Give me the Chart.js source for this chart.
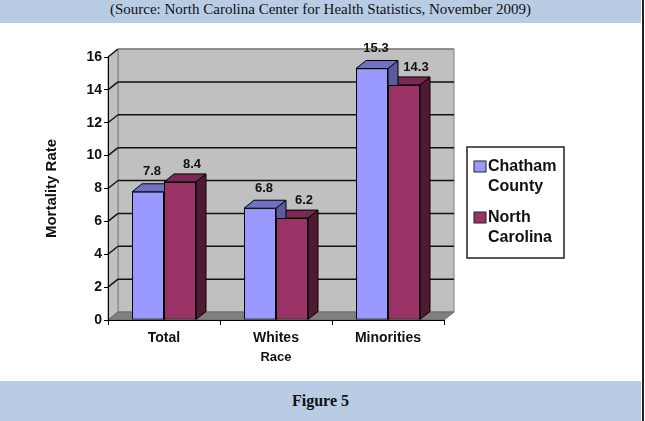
<!DOCTYPE html>
<html><head><meta charset="utf-8">
<script src="https://cdn.jsdelivr.net/npm/chart.js@4.4.0/dist/chart.umd.min.js"></script>
<style>
html,body{margin:0;padding:0;background:#fff;}
#wrap{position:relative;width:645px;height:421px;overflow:hidden;background:#fff;}
#top{position:absolute;left:0;top:0;width:641px;height:23px;background:#b8cce4;font-family:"Liberation Serif",serif;font-size:15px;line-height:18px;text-align:center;color:#111;}
#bot{position:absolute;left:0;top:381px;width:641px;height:40px;background:#b8cce4;font-family:"Liberation Serif",serif;font-weight:bold;font-size:16px;line-height:40px;text-align:center;color:#111;}
#rb{position:absolute;left:642px;top:0;width:2px;height:421px;background:#222;}
canvas{position:absolute;left:0;top:0;}
</style></head>
<body><div id="wrap"><div id="top">(Source: North Carolina Center for Health Statistics, November 2009)</div><div id="bot">Figure 5</div><div id="rb"></div><canvas id="c" width="645" height="421"></canvas></div>
<script>
const categories = ["Total", "Whites", "Minorities"];
const chathamCounty = [7.8, 6.8, 15.3];
const northCarolina = [8.4, 6.2, 14.3];
const seriesNames = [["Chatham", "County"], ["North", "Carolina"]];
const yTickValues = [0, 2, 4, 6, 8, 10, 12, 14, 16];
const axisTitles = { x: "Race", y: "Mortality Rate" };

const DX = 10, DY = 8;
const FONT = '"Liberation Sans", Arial, sans-serif';
const faceColors = [
  { front: '#9999ff', top: '#7070c4', side: '#5b5b9e' },
  { front: '#993366', top: '#7a2952', side: '#4f1a33' }
];

function poly(ctx, pts, fill, stroke, lw) {
  ctx.beginPath();
  ctx.moveTo(pts[0][0], pts[0][1]);
  for (let i = 1; i < pts.length; i++) ctx.lineTo(pts[i][0], pts[i][1]);
  ctx.closePath();
  if (fill) { ctx.fillStyle = fill; ctx.fill(); }
  if (stroke) { ctx.strokeStyle = stroke; ctx.lineWidth = lw || 1; ctx.stroke(); }
}

const threeD = {
  id: 'threeD',
  beforeDraw(chart) {
    const { ctx, chartArea: { left, right, top, bottom }, scales: { y } } = chart;
    ctx.save();
    const yTop = y.getPixelForValue(yTickValues[yTickValues.length - 1]);
    poly(ctx, [[left + DX, yTop - DY], [right + DX, yTop - DY], [right + DX, bottom - DY], [left + DX, bottom - DY]], '#c0c0c0', '#808080', 1);
    poly(ctx, [[left, bottom], [left, yTop], [left + DX, yTop - DY], [left + DX, bottom - DY]], '#c0c0c0', '#808080', 1);
    poly(ctx, [[left, bottom], [right, bottom], [right + DX, bottom - DY], [left + DX, bottom - DY]], '#808080', '#666', 1);
    yTickValues.forEach(v => {
      if (v === 0) return;
      const py = y.getPixelForValue(v);
      ctx.beginPath();
      ctx.moveTo(left, py);
      ctx.lineTo(left + DX, py - DY);
      ctx.strokeStyle = '#111'; ctx.lineWidth = 1.5; ctx.stroke();
      ctx.beginPath();
      ctx.moveTo(left + DX, py - DY);
      ctx.lineTo(right + DX, py - DY);
      ctx.strokeStyle = v === yTickValues[yTickValues.length - 1] ? '#808080' : '#111';
      ctx.stroke();
    });
    ctx.restore();
  },
  beforeDatasetsDraw(chart) {
    const { ctx } = chart;
    ctx.save();
    for (let d = chart.data.datasets.length - 1; d >= 0; d--) {
      const meta = chart.getDatasetMeta(d);
      const c = faceColors[d];
      meta.data.forEach(el => {
        const x0 = el.x - el.width / 2, x1 = el.x + el.width / 2, t = el.y, b = el.base;
        poly(ctx, [[x1, b], [x1, t], [x1 + DX, t - DY], [x1 + DX, b - DY]], c.side, '#000', 1);
        poly(ctx, [[x0, t], [x1, t], [x1 + DX, t - DY], [x0 + DX, t - DY]], c.top, '#000', 1);
      });
    }
    ctx.restore();
  },
  afterDatasetsDraw(chart) {
    const { ctx } = chart;
    ctx.save();
    ctx.font = 'bold 13px ' + FONT;
    ctx.fillStyle = '#111';
    ctx.textAlign = 'center';
    ctx.textBaseline = 'middle';
    const offs = [{ x: 4, y: -12 }, { x: 12, y: -10 }];
    chart.data.datasets.forEach((ds, d) => {
      const meta = chart.getDatasetMeta(d);
      meta.data.forEach((el, i) => {
        ctx.fillText(ds.data[i].toFixed(1), el.x + offs[d].x, el.y - DY + offs[d].y);
      });
    });
    ctx.restore();
  },
  afterDraw(chart) {
    const { ctx } = chart;
    ctx.save();
    const bx = 467, by = 147, bw = 97, bh = 111;
    ctx.fillStyle = '#fff';
    ctx.fillRect(bx, by, bw, bh);
    ctx.strokeStyle = '#222'; ctx.lineWidth = 1.5;
    ctx.strokeRect(bx, by, bw, bh);
    ctx.font = 'bold 16px ' + FONT;
    ctx.textBaseline = 'middle';
    ctx.textAlign = 'left';
    const starts = [167, 218];
    seriesNames.forEach((lines, d) => {
      const sy = starts[d];
      ctx.fillStyle = faceColors[d].front;
      ctx.fillRect(474, sy - 6, 12, 11);
      ctx.strokeStyle = '#222'; ctx.lineWidth = 1;
      ctx.strokeRect(474, sy - 6, 12, 11);
      ctx.fillStyle = '#111';
      lines.forEach((ln, k) => ctx.fillText(ln, 488, sy + k * 20));
    });
    ctx.restore();
  }
};

new Chart(document.getElementById('c'), {
  type: 'bar',
  data: {
    labels: categories,
    datasets: [
      { label: seriesNames[0].join(' '), data: chathamCounty, backgroundColor: faceColors[0].front, borderColor: '#000', borderWidth: 1, borderSkipped: false },
      { label: seriesNames[1].join(' '), data: northCarolina, backgroundColor: faceColors[1].front, borderColor: '#000', borderWidth: 1, borderSkipped: false }
    ]
  },
  options: {
    responsive: false,
    animation: false,
    devicePixelRatio: 1,
    layout: { padding: { left: 0, top: 57, right: 201, bottom: 0 } },
    datasets: { bar: { categoryPercentage: 0.571, barPercentage: 1.0 } },
    plugins: { legend: { display: false }, tooltip: { enabled: false } },
    scales: {
      x: {
        afterFit(s) { s.height = 101; },
        grid: { display: true, drawOnChartArea: false, drawTicks: true, tickLength: 5, color: '#000', offset: true },
        border: { color: '#000', width: 1 },
        ticks: { color: '#111', font: { family: FONT, weight: 'bold', size: 14 }, padding: 5 },
        title: { display: true, text: axisTitles.x, color: '#111', font: { family: FONT, weight: 'bold', size: 13 }, padding: { top: 0, bottom: 56 } }
      },
      y: {
        min: 0, max: 16,
        afterFit(s) { s.width = 108; },
        afterBuildTicks(s) { s.ticks = yTickValues.map(v => ({ value: v })); },
        grid: { display: true, drawOnChartArea: false, drawTicks: true, tickLength: 4, color: '#000' },
        border: { color: '#000', width: 1 },
        ticks: { color: '#111', font: { family: FONT, weight: 'bold', size: 14 }, padding: 2 },
        title: { display: true, text: axisTitles.y, color: '#111', font: { family: FONT, weight: 'bold', size: 15 }, padding: { top: 43, bottom: 0 } }
      }
    }
  },
  plugins: [threeD]
});
</script>
</body></html>
